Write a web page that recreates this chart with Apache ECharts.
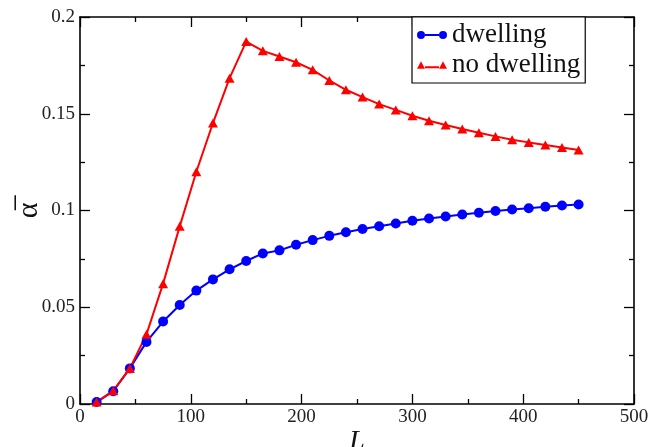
<!DOCTYPE html>
<html>
<head>
<meta charset="utf-8">
<script src="https://cdn.jsdelivr.net/npm/echarts@6/dist/echarts.min.js"></script>
<style>html,body{margin:0;padding:0;background:#fff}#c{width:648px;height:447px}</style>
</head>
<body>
<div id="c"></div>
<script>
var L = [15,30,45,60,75,90,105,120,135,150,165,180,195,210,225,240,255,270,285,300,315,330,345,360,375,390,405,420,435,450];
var dwelling = [0.001,0.0066,0.0184,0.0321,0.0426,0.0512,0.0586,0.0644,0.0696,0.0739,0.0778,0.0794,0.0823,0.0847,0.0869,0.0888,0.0904,0.0919,0.0933,0.0947,0.0959,0.0969,0.0979,0.0988,0.0997,0.1005,0.1012,0.1019,0.1026,0.1031];
var noDwelling = [0.001,0.0069,0.0184,0.036,0.0622,0.0918,0.1200,0.1452,0.1684,0.1873,0.1825,0.1796,0.1766,0.1727,0.1672,0.1624,0.1586,0.1550,0.1520,0.1490,0.1464,0.1442,0.1421,0.1402,0.1383,0.1366,0.1352,0.1339,0.1326,0.1313];
var seriesNames = ['dwelling','no dwelling'];
var xTicks = {min:0, max:500, interval:100};
var yTicks = {min:0, max:0.2, interval:0.05};

function pairs(ys){ return L.map(function(x,i){ return [x, ys[i]]; }); }

var FONT = "'Liberation Serif','DejaVu Serif',serif";
function axisBase(pos, ticks, showLabel, isX){
  return {
    type:'value', position:pos, min:ticks.min, max:ticks.max, interval:ticks.interval,
    nameMoveOverlap:false,
    axisLine:{show:true, onZero:false, lineStyle:{color:'#000', width:1.6}},
    axisTick:{show:true, inside:true, length:10, lineStyle:{color:'#000', width:1.3}},
    minorTick:{show:true, splitNumber:2, length:5, lineStyle:{color:'#000', width:1.3}},
    splitLine:{show:false},
    axisLabel:{show:showLabel, color:'#222', fontSize:19, fontFamily:FONT, margin: isX?4:5,
      showMinLabel:true, showMaxLabel:true}
  };
}
var x0 = axisBase('bottom', xTicks, true, true);
x0.name = 'L'; x0.nameLocation='middle'; x0.nameGap = 24;
x0.nameTextStyle = {fontSize:28, fontStyle:'italic', fontFamily:FONT, color:'#111'};
var x1 = axisBase('top', xTicks, false, true);
var y0 = axisBase('left', yTicks, true, false);
y0.name = 'α\u0305'; y0.nameLocation='middle'; y0.nameGap = 36; y0.nameRotate = 90;
y0.nameTextStyle = {fontSize:30, fontFamily:FONT, color:'#111'};
var y1 = axisBase('right', yTicks, false, false);

var chart = echarts.init(document.getElementById('c'), null, {renderer:'canvas'});
chart.setOption({
  animation:false,
  backgroundColor:'#fff',
  grid:{left:80, right:14, top:17, bottom:43, containLabel:false, outerBoundsMode:'none'},
  xAxis:[x0, x1],
  yAxis:[y0, y1],
  legend:{
    left:412, top:17, orient:'vertical',
    padding:[4.5,5,4.5,5], itemGap:3,
    itemWidth:30, itemHeight:8,
    borderColor:'#000', borderWidth:1.2, backgroundColor:'#fff',
    textStyle:{fontSize:27, fontFamily:FONT, color:'#111'},
    data:[
      {name:seriesNames[0], icon:'path://M0,4A4,4 0 1,1 8,4A4,4 0 1,1 0,4ZM8,3L22,3L22,5L8,5ZM22,4A4,4 0 1,1 30,4A4,4 0 1,1 22,4Z'},
      {name:seriesNames[1], icon:'path://M0,8L4,0.5L8,8ZM8,5.5L22,5.5L22,7.5L8,7.5ZM22,8L26,0.5L30,8Z'}
    ]
  },
  series:[
    {name:seriesNames[0], type:'line', xAxisIndex:0, yAxisIndex:0, data:pairs(dwelling),
     symbol:'circle', symbolSize:10, color:'#0000ff',
     lineStyle:{color:'#0000ff', width:2}, itemStyle:{color:'#0000ff'}, clip:false},
    {name:seriesNames[1], type:'line', xAxisIndex:0, yAxisIndex:0, data:pairs(noDwelling),
     symbol:'triangle', symbolSize:[10,9], color:'#ff0000',
     lineStyle:{color:'#ff0000', width:2}, itemStyle:{color:'#ff0000'}, clip:false}
  ]
});
</script>
</body>
</html>
